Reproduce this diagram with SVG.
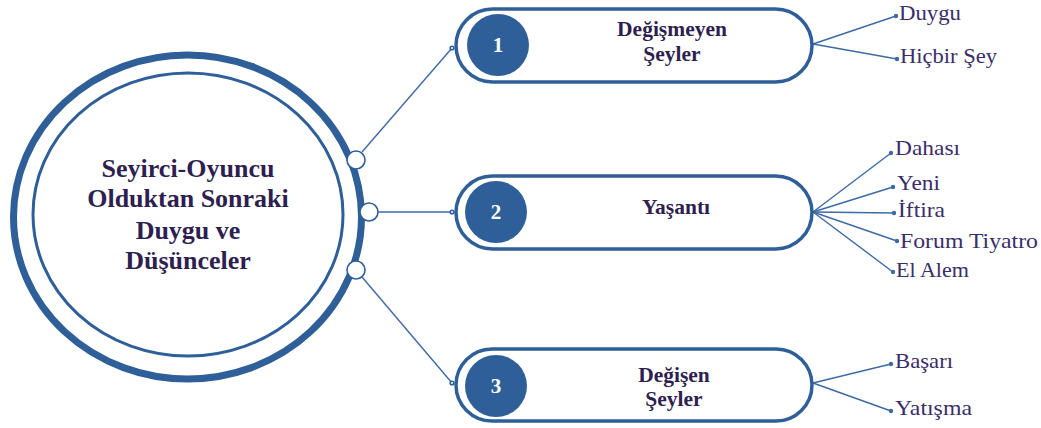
<svg xmlns="http://www.w3.org/2000/svg" width="1041" height="428" viewBox="0 0 1041 428">
<style>
.ring{fill:none;stroke:#2f5f98}
.pill{fill:#fff;stroke:#2f5f98;stroke-width:3.5}
.num{fill:#2f5f98}
.numt{font-family:"Liberation Serif","Times New Roman",serif;font-weight:bold;font-size:21px;fill:#fff;text-anchor:middle}
.ptxt{font-family:"Liberation Serif","Times New Roman",serif;font-weight:bold;font-size:21.5px;fill:#2e1f50;text-anchor:middle}
.ctxt{font-family:"Liberation Serif","Times New Roman",serif;font-weight:bold;font-size:26px;fill:#2e1f50;text-anchor:middle}
.leaf{font-family:"Liberation Serif","Times New Roman",serif;font-size:21px;fill:#3a2d6a}
.ln{stroke:#3c6aa5;stroke-width:1.4;fill:none}
.dot{fill:#3c6aa5}
.knob{fill:#fff;stroke:#2f5f98;stroke-width:1.6}
</style>
<g id="center">
<ellipse class="ring" cx="187.5" cy="217" rx="174" ry="162" stroke-width="7"/>
<ellipse class="ring" cx="188" cy="214.5" rx="155" ry="141.5" stroke-width="3"/>
<text class="ctxt" x="188" y="177">Seyirci-Oyuncu</text>
<text class="ctxt" x="188" y="207">Olduktan Sonraki</text>
<text class="ctxt" x="188" y="239">Duygu ve</text>
<text class="ctxt" x="188" y="269">Düşünceler</text>
</g>
<g id="connectors">
<line class="ln" x1="362" y1="152" x2="452" y2="48"/>
<line class="ln" x1="378" y1="212" x2="452" y2="212"/>
<line class="ln" x1="362" y1="277" x2="452" y2="383"/>
<circle class="knob" cx="452" cy="48" r="1.8"/>
<circle class="knob" cx="452" cy="212" r="1.8"/>
<circle class="knob" cx="452" cy="383" r="1.8"/>
<line class="ln" x1="813" y1="44" x2="896" y2="16"/>
<line class="ln" x1="813" y1="44" x2="897" y2="59"/>
<line class="ln" x1="813" y1="212" x2="891" y2="153"/>
<line class="ln" x1="813" y1="212" x2="893" y2="187"/>
<line class="ln" x1="813" y1="212" x2="894" y2="213"/>
<line class="ln" x1="813" y1="212" x2="897" y2="241"/>
<line class="ln" x1="813" y1="212" x2="893" y2="272"/>
<line class="ln" x1="813" y1="383" x2="891" y2="364"/>
<line class="ln" x1="813" y1="383" x2="891" y2="411"/>
<circle class="dot" cx="896" cy="16" r="2.2"/>
<circle class="dot" cx="897" cy="59" r="2.2"/>
<circle class="dot" cx="891" cy="153" r="2.2"/>
<circle class="dot" cx="893" cy="187" r="2.2"/>
<circle class="dot" cx="894" cy="213" r="2.2"/>
<circle class="dot" cx="897" cy="241" r="2.2"/>
<circle class="dot" cx="893" cy="272" r="2.2"/>
<circle class="dot" cx="891" cy="364" r="2.2"/>
<circle class="dot" cx="891" cy="411" r="2.2"/>
<circle class="knob" cx="356" cy="160" r="9"/>
<circle class="knob" cx="369" cy="212" r="9"/>
<circle class="knob" cx="356" cy="270" r="9"/>
</g>
<g id="node1">
<rect class="pill" x="456" y="9" width="356" height="73" rx="36.5"/>
<circle class="num" cx="498" cy="45" r="31"/>
<text class="numt" x="498" y="52">1</text>
<text class="ptxt" x="672" y="36">Değişmeyen</text>
<text class="ptxt" x="672" y="61">Şeyler</text>
</g>
<g id="node2">
<rect class="pill" x="456" y="176" width="356" height="73" rx="36.5"/>
<circle class="num" cx="496" cy="212" r="31"/>
<text class="numt" x="496" y="219">2</text>
<text class="ptxt" x="676" y="214">Yaşantı</text>
</g>
<g id="node3">
<rect class="pill" x="456" y="349" width="356" height="72" rx="36"/>
<circle class="num" cx="496" cy="386" r="31"/>
<text class="numt" x="496" y="393">3</text>
<text class="ptxt" x="674" y="382">Değişen</text>
<text class="ptxt" x="674" y="406">Şeyler</text>
</g>
<g id="leaves">
<text class="leaf" x="899" y="20" textLength="62" lengthAdjust="spacingAndGlyphs">Duygu</text>
<text class="leaf" x="900" y="63" textLength="97" lengthAdjust="spacingAndGlyphs">Hiçbir Şey</text>
<text class="leaf" x="895" y="155" textLength="65" lengthAdjust="spacingAndGlyphs">Dahası</text>
<text class="leaf" x="897" y="190" textLength="43" lengthAdjust="spacingAndGlyphs">Yeni</text>
<text class="leaf" x="898" y="217" textLength="47" lengthAdjust="spacingAndGlyphs">İftira</text>
<text class="leaf" x="900" y="248" textLength="138" lengthAdjust="spacingAndGlyphs">Forum Tiyatro</text>
<text class="leaf" x="896" y="277" textLength="73" lengthAdjust="spacingAndGlyphs">El Alem</text>
<text class="leaf" x="895" y="368" textLength="58" lengthAdjust="spacingAndGlyphs">Başarı</text>
<text class="leaf" x="895" y="415" textLength="77" lengthAdjust="spacingAndGlyphs">Yatışma</text>
</g>
</svg>
